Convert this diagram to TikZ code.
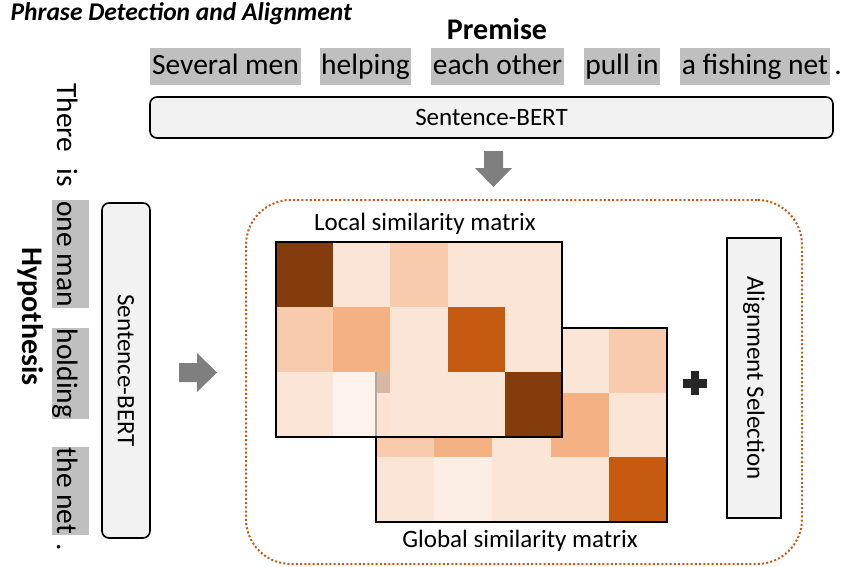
\documentclass[tikz,border=0pt]{standalone}
\usepackage{fontspec}
\setmainfont{Carlito}

\definecolor{hl}{HTML}{BFBFBF}
\definecolor{boxfill}{HTML}{F2F2F2}
\definecolor{arrowgray}{HTML}{7F7F7F}
\definecolor{frameorange}{HTML}{C55A11}
\definecolor{plusdark}{HTML}{262626}
% heat-map shades
\definecolor{cD}{HTML}{843C0C}
\definecolor{cO}{HTML}{C55A11}
\definecolor{cM}{HTML}{F4B183}
\definecolor{cP}{HTML}{F8CBAD}
\definecolor{cL}{HTML}{FBE5D6}
\definecolor{cW}{HTML}{FCEEE4}

\begin{document}
\begin{tikzpicture}[x=1pt,y=-1pt,
  bigfont/.style={font=\fontsize{29.5}{31}\selectfont},
  midfont/.style={font=\fontsize{25}{27}\selectfont},
  phrase/.style={bigfont, fill=hl, inner sep=0pt, minimum height=37pt,
                 text height=22pt, text depth=5pt},
  word/.style={bigfont, inner sep=0pt, text height=22pt, text depth=5pt},
  vphrase/.style={bigfont, fill=hl, inner sep=0pt, rotate=-90, minimum height=37pt,
                  text height=27pt, text depth=0pt},
  vword/.style={bigfont, inner sep=0pt, rotate=-90, text height=27pt, text depth=0pt},
  encoder/.style={midfont, draw, line width=1.6pt, fill=boxfill, rounded corners=7pt,
                  inner sep=0pt},
  selector/.style={midfont, draw, line width=1.6pt, fill=boxfill, inner sep=0pt,
                   rotate=-90},
  matframe/.style={draw, line width=2.2pt, inner sep=0pt},
  blockarrow/.style={fill=arrowgray},
  cellD/.style={fill=cD}, cellO/.style={fill=cO}, cellM/.style={fill=cM},
  cellP/.style={fill=cP}, cellL/.style={fill=cL}, cellW/.style={fill=cW},
  cellWt/.style={fill=cW, fill opacity=0.7}
]
\useasboundingbox (0,0) rectangle (848,567);

% titles
\node[anchor=base west, font=\fontsize{25.5}{27}\selectfont\bfseries\itshape]
  (title) at (7,21) {Phrase Detection and Alignment};
\node[anchor=base, font=\fontsize{30}{32}\selectfont\bfseries]
  (premise) at (497,40) {Premise};
\node[anchor=base, rotate=-90, font=\fontsize{30}{32}\selectfont\bfseries]
  (hypothesis) at (23,316.5) {Hypothesis};

% premise phrases
\node[phrase, minimum width=151pt] (p1) at (225.5,66.5) {Several men};
\node[phrase, minimum width=91pt]  (p2) at (365.5,66.5) {helping};
\node[phrase, minimum width=133pt] (p3) at (497.5,66.5) {each other};
\node[phrase, minimum width=76pt]  (p4) at (622,66.5) {pull in};
\node[phrase, minimum width=150pt] (p5) at (755,66.5) {a fishing net};
\node[word] (p6) at (838,66.5) {.};

% hypothesis phrases
\node[vword] (h1) at (70.5,118) {There};
\node[vword] (h2) at (70.5,177.5) {is};
\node[vphrase, minimum width=108pt] (h3) at (70.5,254) {one man};
\node[vphrase, minimum width=91pt]  (h4) at (70.5,373.5) {holding};
\node[vphrase, minimum width=88pt]  (h5) at (70.5,491) {the net};
\node[vword] (h6) at (70.5,547) {.};

% encoders
\node[encoder, minimum width=683pt, minimum height=41pt] (encP) at (491.5,117.5) {Sentence-BERT};
\node[encoder, rotate=-90, minimum width=335pt, minimum height=48pt] (encH) at (126,370.5) {Sentence-BERT};

% dotted block around the matching stage
\node[draw=frameorange, line width=2pt, dash pattern=on 2pt off 2.2pt,
      rounded corners=45pt, minimum width=556pt, minimum height=364pt, inner sep=0pt]
  (block) at (524,382) {};

% block arrows
\fill[blockarrow] (484,151) -- (503,151) -- (503,168) -- (512,168) -- (493.5,187)
  -- (475,168) -- (484,168) -- cycle;
\fill[blockarrow] (179,363) -- (197,363) -- (197,353) -- (217,372.5) -- (197,392)
  -- (197,382) -- (179,382) -- cycle;

% global similarity matrix (behind)
\foreach \row [count=\r from 0] in {{D,L,O,L,P},{P,M,L,M,L},{L,W,L,L,O}} {
  \foreach \c [count=\i from 0] in \row {
    \fill[cell\c] ({376+\i*58.2},{328+\r*64.667}) rectangle ++(58.2,64.667);
  }
}
\node[matframe, minimum width=291pt, minimum height=194pt] (global) at (521.5,425) {};

% local similarity matrix (front)
\foreach \row [count=\r from 0] in {{D,L,P,L,L},{P,M,L,O,L},{L,Wt,L,L,D}} {
  \foreach \c [count=\i from 0] in \row {
    \fill[cell\c] ({276+\i*57.2},{242+\r*65}) rectangle ++(57.2,65);
  }
}
\node[matframe, minimum width=286pt, minimum height=195pt] (local) at (419,339.5) {};

\node[midfont] (locallabel) at (425,224) {Local similarity matrix};
\node[midfont] (globallabel) at (520,541) {Global similarity matrix};

% plus sign
\fill[plusdark] (683,378.5) rectangle (707,387.5);
\fill[plusdark] (691,371) rectangle (699,395);

% alignment selection
\node[selector, minimum width=280pt, minimum height=54pt] (select) at (754,378) {Alignment Selection};

\end{tikzpicture}
\end{document}
